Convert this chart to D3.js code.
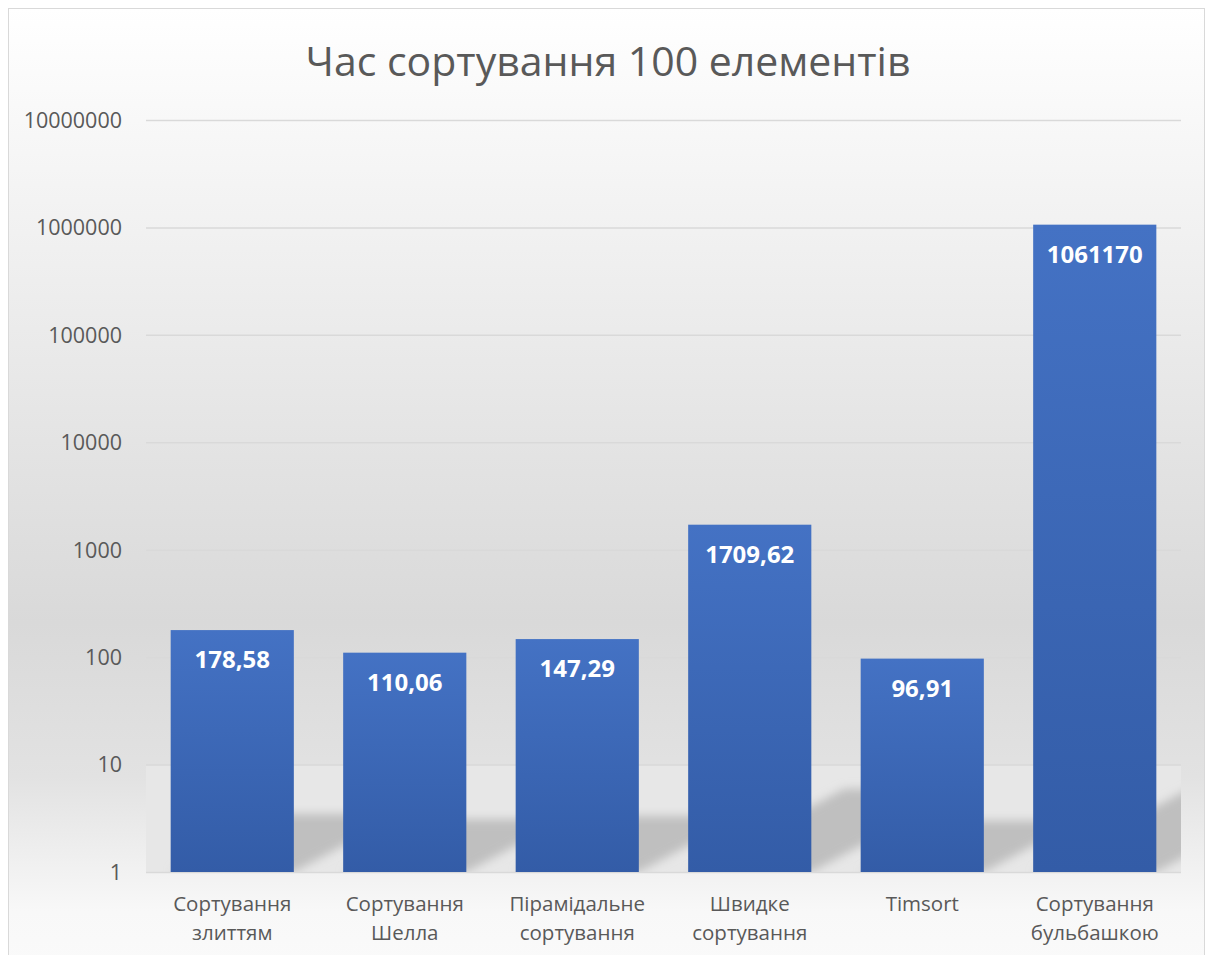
<meta charset="utf-8">
<head>
  <title>Час сортування 100 елементів</title>
</head>
<style>
  body { margin: 0; background: #fff; }
  text { font-family: "Open Sans", "Noto Sans", sans-serif; }
</style>
<body>
<svg width="1209" height="955"></svg>
<script src="https://cdn.jsdelivr.net/npm/d3@7"></script>
<script>

var categories = [
  ["Сортування", "злиттям"],
  ["Сортування", "Шелла"],
  ["Пірамідальне", "сортування"],
  ["Швидке", "сортування"],
  ["Timsort"],
  ["Сортування", "бульбашкою"]
];
var values = [178.58, 110.06, 147.29, 1709.62, 96.91, 1061170];
var valueLabels = ["178,58", "110,06", "147,29", "1709,62", "96,91", "1061170"];
var tickValues = [1, 10, 100, 1000, 10000, 100000, 1000000, 10000000];
var title = "Час сортування 100 елементів";

var svg = d3.select("svg");
var defs = svg.append("defs");

// background gradient of the chart area
var bg = defs.append("linearGradient").attr("id", "bg")
  .attr("x1", 0).attr("y1", 0).attr("x2", 0).attr("y2", 1);
[[0, "#ffffff"], [0.15, "#f6f6f6"], [0.45, "#e4e4e4"], [0.64, "#d9d9d9"], [0.8, "#e2e2e2"], [0.94, "#f8f8f8"], [1, "#fafafa"]]
  .forEach(function(s) { bg.append("stop").attr("offset", s[0]).attr("stop-color", s[1]); });

var barGrad = defs.append("linearGradient").attr("id", "barGrad")
  .attr("x1", 0).attr("y1", 0).attr("x2", 0).attr("y2", 1);
barGrad.append("stop").attr("offset", 0).attr("stop-color", "#4472c4");
barGrad.append("stop").attr("offset", 1).attr("stop-color", "#335ca7");

defs.append("filter").attr("id", "blur")
  .attr("x", "-20%").attr("y", "-20%").attr("width", "140%").attr("height", "140%")
  .append("feGaussianBlur").attr("stdDeviation", 5);

svg.append("rect")
  .attr("x", 8.5).attr("y", 8.5).attr("width", 1196).attr("height", 960)
  .attr("fill", "url(#bg)").attr("stroke", "#d9d9d9").attr("stroke-width", 1);

var mLeft = 146, mRight = 1181, mTop = 120, mBottom = 872;

var x = d3.scaleBand().domain(d3.range(categories.length))
  .range([mLeft, mRight]).paddingInner(0.286).paddingOuter(0.143);
var y = d3.scaleLog().domain([1, 10000000]).range([mBottom, mTop]);

svg.append("text")
  .attr("x", 608).attr("y", 76)
  .attr("text-anchor", "middle")
  .attr("font-size", 41)
  .attr("fill", "#595959")
  .text(title);

// floor band with bar shadows
defs.append("clipPath").attr("id", "floorClip")
  .append("rect").attr("x", mLeft).attr("y", y(10)).attr("width", mRight - mLeft).attr("height", mBottom - y(10));

var floor = svg.append("g").attr("clip-path", "url(#floorClip)");
floor.append("rect")
  .attr("x", mLeft).attr("y", y(10)).attr("width", mRight - mLeft).attr("height", mBottom - y(10))
  .attr("fill", "#e7e7e7");

floor.selectAll("polygon").data(values).join("polygon")
  .attr("points", function(d, i) {
    var x0 = x(i), x1 = x(i) + x.bandwidth();
    var h = mBottom - y(d);
    var dx = h * 0.45, dy = h * 0.24;
    return [[x0, mBottom], [x1, mBottom], [x1 + dx, mBottom - dy], [x0 + dx, mBottom - dy]].join(" ");
  })
  .attr("fill", "#bfbfbf")
  .attr("filter", "url(#blur)");

// gridlines and y axis
var yAxis = d3.axisLeft(y).tickValues(tickValues).tickFormat(d3.format("d"))
  .tickSize(-(mRight - mLeft)).tickPadding(24);
var ya = svg.append("g").attr("transform", "translate(" + mLeft + ",0)").call(yAxis);
ya.select(".domain").remove();
ya.selectAll(".tick line").attr("stroke", "#d9d9d9").attr("stroke-width", 1.5);
ya.selectAll(".tick text").attr("font-size", 21.5).attr("fill", "#595959")
  .attr("font-family", "'Open Sans', sans-serif").attr("dy", "0.34em");

// bars
svg.append("g").selectAll("rect").data(values).join("rect")
  .attr("x", function(d, i) { return x(i); })
  .attr("y", function(d) { return y(d); })
  .attr("width", x.bandwidth())
  .attr("height", function(d) { return mBottom - y(d); })
  .attr("fill", "url(#barGrad)");

// data labels
svg.append("g").selectAll("text").data(values).join("text")
  .attr("x", function(d, i) { return x(i) + x.bandwidth() / 2; })
  .attr("y", function(d) { return y(d) + 38; })
  .attr("text-anchor", "middle")
  .attr("font-size", 24)
  .attr("font-weight", "bold")
  .attr("fill", "#ffffff")
  .text(function(d, i) { return valueLabels[i]; });

// category labels
var cat = svg.append("g").selectAll("text").data(categories).join("text")
  .attr("text-anchor", "middle")
  .attr("font-size", 20.5)
  .attr("fill", "#595959");
cat.selectAll("tspan").data(function(d, i) { return d.map(function(t) { return { t: t, i: i }; }); })
  .join("tspan")
  .attr("x", function(d) { return x(d.i) + x.bandwidth() / 2; })
  .attr("y", function(d, j) { return 911 + j * 29; })
  .text(function(d) { return d.t; });

</script>
</body>
